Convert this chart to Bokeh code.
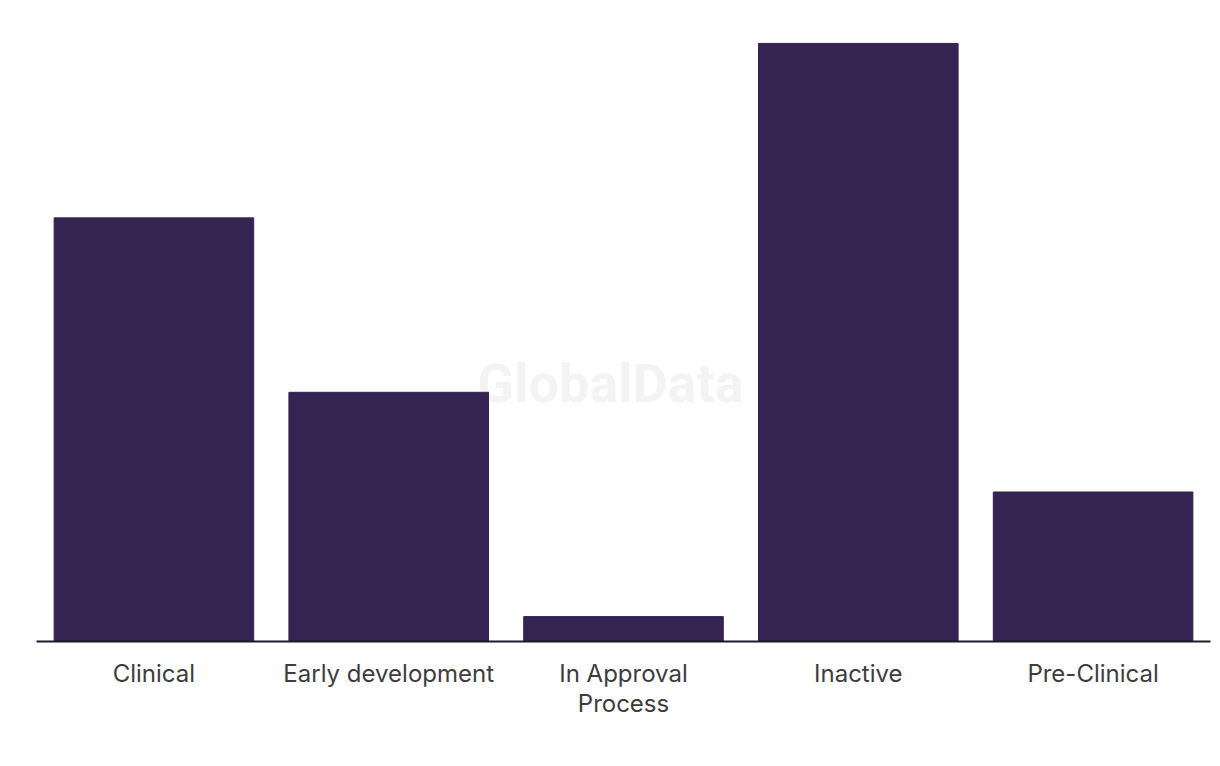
from bokeh.plotting import figure
from bokeh.core.properties import value
from bokeh.embed import file_html
from bokeh.resources import INLINE

categories = ["Clinical", "Early development", "In Approval\nProcess", "Inactive", "Pre-Clinical"]
counts = [17, 10, 1, 24, 6]
watermark_text = ["GlobalData"]

p = figure(x_range=categories, y_range=(0, 25), width=1212, height=758,
           output_backend="svg", toolbar_location=None,
           min_border_left=36, min_border_right=2, min_border_top=18, min_border_bottom=117)

p.text(x=[categories[2]], y=[10.36], text=watermark_text, x_offset=-13,
       text_align="center", text_baseline="middle",
       text_font=value("Roboto"), text_font_style="bold", text_font_size="54px",
       text_color="#f3f3f3")
p.vbar(x=categories, top=counts, width=0.85, color="#352452")

p.yaxis.visible = False
p.xgrid.visible = False
p.ygrid.visible = False
p.outline_line_color = None
p.background_fill_color = "white"
p.border_fill_color = "white"

ax = p.xaxis[0]
ax.axis_line_color = "#1c1a2b"
ax.axis_line_width = 2
ax.major_tick_line_color = None
ax.minor_tick_line_color = None
ax.major_label_standoff = 11
ax.major_label_text_font = "Inter"
ax.major_label_text_font_size = "24px"
ax.major_label_text_color = "#3d3d3d"
ax.major_label_text_line_height = 1.06

open("out.html", "w").write(file_html(p, INLINE))
